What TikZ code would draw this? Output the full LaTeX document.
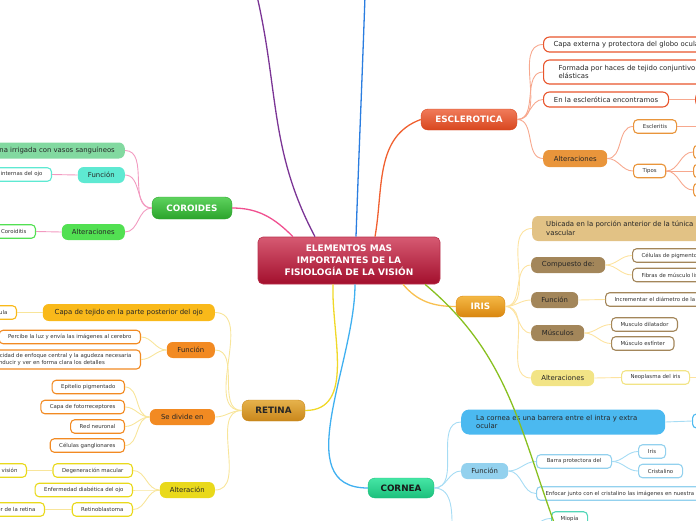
\documentclass[tikz,border=0pt]{standalone}
\usepackage{fontspec}
\setmainfont{DejaVu Sans}

\definecolor{temaTop}{HTML}{D65A72}
\definecolor{temaBot}{HTML}{A30F2D}
\definecolor{temaLine}{HTML}{B8304C}
\definecolor{escTop}{HTML}{F07B5A}
\definecolor{escBot}{HTML}{D8461E}
\definecolor{escRed}{HTML}{E8552C}
\definecolor{escOrange}{HTML}{E9953B}
\definecolor{escLink}{HTML}{F7A88E}
\definecolor{corTop}{HTML}{5ED25E}
\definecolor{corBot}{HTML}{2BA42B}
\definecolor{corLight}{HTML}{82D9A0}
\definecolor{corTurq}{HTML}{5EE9D2}
\definecolor{corGreen}{HTML}{52E052}
\definecolor{corLink}{HTML}{F29AC0}
\definecolor{retTop}{HTML}{E6B24C}
\definecolor{retBot}{HTML}{C9871B}
\definecolor{retAmber}{HTML}{F9B91A}
\definecolor{retOrange}{HTML}{F28A22}
\definecolor{retYellow}{HTML}{E9D91B}
\definecolor{retLink}{HTML}{F8E59A}
\definecolor{irisTop}{HTML}{F4B845}
\definecolor{irisBot}{HTML}{D9860F}
\definecolor{irisTan}{HTML}{E2C285}
\definecolor{irisBrown}{HTML}{A3865A}
\definecolor{irisYellow}{HTML}{F2E486}
\definecolor{irisLink}{HTML}{FDE3A0}
\definecolor{cornTop}{HTML}{45E6A5}
\definecolor{cornBot}{HTML}{1CBF7C}
\definecolor{cornBlue}{HTML}{4BB9F0}
\definecolor{cornLight}{HTML}{93D1EE}
\definecolor{cornTeal}{HTML}{52D6B8}
\definecolor{cornLink}{HTML}{A6DCF4}
\definecolor{lilaLine}{HTML}{7B3595}
\definecolor{azulLine}{HTML}{2A7DE0}
\definecolor{escLine}{HTML}{F06030}
\definecolor{corLine}{HTML}{F05090}
\definecolor{retLine}{HTML}{F0D828}
\definecolor{cornLine}{HTML}{40B0F0}
\definecolor{irisLine}{HTML}{F8C050}
\definecolor{verdeLine}{HTML}{88C020}

\begin{document}
\begin{tikzpicture}[x=1pt, y=1pt,
  tema/.style={rounded corners=5pt, top color=temaTop, bottom color=temaBot, draw=temaLine, line width=0.6pt, minimum width=182pt, minimum height=47pt, align=center, text=white, font=\fontsize{9}{12}\selectfont\bfseries},
  rama/.style 2 args={rounded corners=7pt, top color=#1, bottom color=#2, draw=#2, minimum height=21pt, font=\fontsize{8.8}{10}\selectfont\bfseries, text=white},
  subtema/.style={rounded corners=6pt, fill=#1, minimum height=16pt, inner xsep=8pt, font=\fontsize{6.9}{8.7}\selectfont, text=black!85},
  caja/.style={rounded corners=6pt, draw=#1, fill=white, line width=1.1pt, minimum height=15pt, inner xsep=10pt, font=\fontsize{6.9}{8.7}\selectfont, text=black!85},
  hoja/.style={rounded corners=4pt, draw=#1, fill=white, line width=1.1pt, minimum height=13.5pt, inner xsep=9pt, font=\fontsize{5.4}{6.9}\selectfont, text=black!80},
  enlace/.style={line width=0.9pt, draw=#1},
  rama0/.style={line width=1.3pt, draw=#1}]
  \useasboundingbox (0,0) rectangle (696,-520);
  \clip (0,0) rectangle (696,-520);

  % centro
  \node[tema] (topic) at (349,-260.5) {ELEMENTOS MAS\\IMPORTANTES DE LA\\FISIOLOGÍA DE LA VISIÓN};

  % esclerotica
  \node[rama={escTop}{escBot}, minimum width=96pt] (esc) at (469,-119.5) {ESCLEROTICA};
  \node[caja=escRed, anchor=west] (escA) at (543,-44.5) {Capa externa y protectora del globo ocular};
  \node[caja=escRed, anchor=west, minimum height=24pt, align=left, inner xsep=15pt] (escB) at (543,-72) {Formada por haces de tejido conjuntivo y fibras\\elásticas};
  \node[caja=escRed, anchor=west, minimum width=125pt] (escC) at (543,-99.5) {En la esclerótica encontramos};
  \node[subtema=escRed, anchor=west, minimum width=40pt] (escCa) at (695,-99.5) {};
  \node[subtema=escOrange, anchor=west, minimum width=64pt, minimum height=17pt] (escD) at (543,-158.5) {Alteraciones};
  \node[hoja=escOrange, anchor=west, minimum width=43pt] (escDa) at (633,-126.5) {Escleritis};
  \node[hoja=escOrange, anchor=west, minimum width=32pt] (escDb) at (633,-171) {Tipos};
  \node[hoja=escOrange, anchor=west, minimum width=30pt] (escDb1) at (693,-152) {};
  \node[hoja=escOrange, anchor=west, minimum width=30pt] (escDb2) at (693,-171) {};
  \node[hoja=escOrange, anchor=west, minimum width=30pt] (escDb3) at (693,-190) {};
  \coordinate (escDaOut) at (710,-126.5);

  % coroides
  \node[rama={corTop}{corBot}, minimum width=80pt, minimum height=22pt] (cor) at (192,-208) {COROIDES};
  \node[subtema=corLight, anchor=east, inner xsep=10pt] (corA) at (125,-150.5) {Membrana irrigada con vasos sanguíneos};
  \node[subtema=corTurq, anchor=east, minimum width=47pt] (corB) at (125,-175) {Función};
  \node[hoja=corTurq, anchor=east] (corBa) at (52,-174.5) {Nutrir las estructuras internas del ojo};
  \node[subtema=corGreen, anchor=east, minimum width=63pt] (corC) at (125,-232) {Alteraciones};
  \node[hoja=corGreen, anchor=east] (corCa) at (36,-231.5) {Coroiditis};

  % retina
  \node[rama={retTop}{retBot}, minimum width=63pt, text=black!85] (ret) at (273.5,-410.5) {RETINA};
  \node[subtema=retAmber, anchor=east, minimum width=172pt, minimum height=17pt] (retA) at (215,-312.5) {Capa de tejido en la parte posterior del ojo};
  \node[hoja=retAmber, anchor=east] (retAa) at (17,-312.5) {Mácula};
  \node[subtema=retOrange, anchor=east, minimum width=48pt] (retB) at (215,-350) {Función};
  \node[hoja=retOrange, anchor=east] (retBa) at (141,-337) {Percibe la luz y envía las imágenes al cerebro};
  \node[hoja=retOrange, anchor=east, align=left, minimum height=19pt] (retBb) at (141,-359.5) {La capacidad de enfoque central y la agudeza necesaria\\para conducir y ver en forma clara los detalles};
  \node[subtema=retOrange, anchor=east, minimum width=65pt] (retC) at (215,-417) {Se divide en};
  \node[hoja=retOrange, anchor=east] (retC1) at (125,-387) {Epitelio pigmentado};
  \node[hoja=retOrange, anchor=east] (retC2) at (125,-407) {Capa de fotorreceptores};
  \node[hoja=retOrange, anchor=east] (retC3) at (125,-426.5) {Red neuronal};
  \node[hoja=retOrange, anchor=east] (retC4) at (125,-445.5) {Células ganglionares};
  \node[subtema=retYellow, anchor=east, minimum width=55pt] (retD) at (215,-490) {Alteración};
  \node[hoja=retYellow, anchor=east] (retDa) at (133,-470.5) {Degeneración macular};
  \node[hoja=retYellow, anchor=east] (retDa1) at (27,-470.5) {Pérdida de la visión};
  \node[hoja=retYellow, anchor=east] (retDb) at (133,-490) {Enfermedad diabética del ojo};
  \node[hoja=retYellow, anchor=east] (retDc) at (133,-509.5) {Retinoblastoma};
  \node[hoja=retYellow, anchor=east] (retDc1) at (45,-509.5) {Cáncer de la retina};

  % iris
  \node[rama={irisTop}{irisBot}, minimum width=49pt] (iris) at (480.5,-306.5) {IRIS};
  \node[subtema=irisTan, anchor=west, minimum height=25pt, align=left, inner xsep=14pt] (irisA) at (532,-228.5) {Ubicada en la porción anterior de la túnica\\vascular};
  \node[subtema=irisBrown, anchor=west, minimum width=74pt] (irisB) at (531,-265) {Compuesto de:};
  \node[hoja=irisBrown, anchor=west] (irisBa) at (632,-255.5) {Células de pigmento};
  \node[hoja=irisBrown, anchor=west] (irisBb) at (632,-275) {Fibras de músculo liso};
  \node[subtema=irisBrown, anchor=west, minimum width=47pt] (irisC) at (531,-300) {Función};
  \node[hoja=irisBrown, anchor=west] (irisCa) at (605,-299.5) {Incrementar el diámetro de la pupila};
  \node[subtema=irisBrown, anchor=west, minimum width=53pt] (irisD) at (531,-333) {Músculos};
  \node[hoja=irisBrown, anchor=west] (irisDa) at (611,-324.5) {Musculo dilatador};
  \node[hoja=irisBrown, anchor=west] (irisDb) at (611,-343.5) {Músculo esfínter};
  \node[subtema=irisYellow, anchor=west, minimum width=63pt] (irisE) at (531,-378) {Alteraciones};
  \node[hoja=irisYellow, anchor=west] (irisEa) at (621,-377.5) {Neoplasma del iris};
  \coordinate (irisEaOut) at (710,-377.5);

  % cornea
  \node[rama={cornTop}{cornBot}, minimum width=66pt, minimum height=20pt, text=black!90] (corn) at (401,-488) {CORNEA};
  \node[subtema=cornBlue, anchor=west, text width=174pt, minimum height=25pt, rounded corners=8pt, align=left, inner xsep=15pt] (cornA) at (461,-422) {La cornea es una barrera entre el intra y extra\\ocular};
  \node[hoja=cornBlue, anchor=west, minimum width=30pt, minimum height=14pt] (cornAa) at (692,-421) {};
  \node[subtema=cornLight, anchor=west, minimum width=47pt] (cornB) at (461,-471) {Función};
  \node[hoja=cornLight, anchor=west, minimum width=75pt] (cornBa) at (536,-461.5) {Barra protectora del};
  \node[hoja=cornLight, anchor=west, minimum width=27pt] (cornBa1) at (638,-451.5) {Iris};
  \node[hoja=cornLight, anchor=west, minimum width=44pt] (cornBa2) at (638,-471) {Cristalino};
  \node[hoja=cornLight, anchor=west] (cornBb) at (536,-493.5) {Enfocar junto con el cristalino las imágenes en nuestra retina};
  \node[hoja=cornTeal, anchor=west, minimum width=36pt] (mio) at (551,-518.5) {Miopía};
  \coordinate (cornC) at (452,-535);
  \coordinate (mioIn) at (532,-532);

  % ramas del centro
  \coordinate (lilaEnd) at (257,4);
  \coordinate (azulEnd) at (365,4);
  \coordinate (verdeEnd) at (556,-528);
  \draw[rama0=lilaLine] ([xshift=-34pt]topic.north) to[out=118, in=-77] (lilaEnd);
  \draw[rama0=azulLine] ([xshift=7pt]topic.north) to[out=88, in=-92] (azulEnd);
  \draw[rama0=escLine] ([xshift=26pt]topic.north) to[out=80, in=200] (esc.west);
  \draw[rama0=corLine] (cor.east) to[out=0, in=135] ([xshift=-56pt]topic.north);
  \draw[rama0=retLine] ([xshift=-16pt]topic.south) to[out=-92, in=0] (ret.east);
  \draw[rama0=cornLine] ([xshift=6pt]topic.south) to[out=-90, in=180] (corn.west);
  \draw[rama0=irisLine] ([xshift=54pt]topic.south) to[out=-50, in=180] (iris.west);

  % enlaces esclerotica
  \draw[enlace=escLink] (esc.east) to[out=0, in=180] (escA.west);
  \draw[enlace=escLink] (esc.east) to[out=0, in=180] (escB.west);
  \draw[enlace=escLink] (esc.east) to[out=0, in=180] (escC.west);
  \draw[enlace=escLink] (esc.east) to[out=0, in=180] (escD.west);
  \draw[enlace=escLink] (escC.east) -- (escCa.west);
  \draw[enlace=escLink] (escD.east) to[out=0, in=180] (escDa.west);
  \draw[enlace=escLink] (escD.east) to[out=0, in=180] (escDb.west);
  \draw[enlace=escLink] (escDa.east) -- (escDaOut);
  \draw[enlace=escLink] (escDb.east) to[out=0, in=180] (escDb1.west);
  \draw[enlace=escLink] (escDb.east) -- (escDb2.west);
  \draw[enlace=escLink] (escDb.east) to[out=0, in=180] (escDb3.west);

  % enlaces coroides
  \draw[enlace=corLink] (cor.west) to[out=180, in=0] (corA.east);
  \draw[enlace=corLink] (cor.west) to[out=180, in=0] (corB.east);
  \draw[enlace=corLink] (cor.west) to[out=180, in=0] (corC.east);
  \draw[enlace=corLink] (corB.west) -- (corBa.east);
  \draw[enlace=corLink] (corC.west) -- (corCa.east);

  % enlaces retina
  \draw[enlace=retLink] (ret.west) to[out=180, in=0] (retA.east);
  \draw[enlace=retLink] (ret.west) to[out=180, in=0] (retB.east);
  \draw[enlace=retLink] (ret.west) to[out=180, in=0] (retC.east);
  \draw[enlace=retLink] (ret.west) to[out=180, in=0] (retD.east);
  \draw[enlace=retLink] (retA.west) -- (retAa.east);
  \draw[enlace=retLink] (retB.west) to[out=180, in=0] (retBa.east);
  \draw[enlace=retLink] (retB.west) to[out=180, in=0] (retBb.east);
  \draw[enlace=retLink] (retC.west) to[out=180, in=0] (retC1.east);
  \draw[enlace=retLink] (retC.west) to[out=180, in=0] (retC2.east);
  \draw[enlace=retLink] (retC.west) to[out=180, in=0] (retC3.east);
  \draw[enlace=retLink] (retC.west) to[out=180, in=0] (retC4.east);
  \draw[enlace=retLink] (retD.west) to[out=180, in=0] (retDa.east);
  \draw[enlace=retLink] (retD.west) to[out=180, in=0] (retDb.east);
  \draw[enlace=retLink] (retD.west) to[out=180, in=0] (retDc.east);
  \draw[enlace=retLink] (retDa.west) -- (retDa1.east);
  \draw[enlace=retLink] (retDc.west) -- (retDc1.east);

  % enlaces iris
  \draw[enlace=irisLink] (iris.east) to[out=0, in=180] (irisA.west);
  \draw[enlace=irisLink] (iris.east) to[out=0, in=180] (irisB.west);
  \draw[enlace=irisLink] (iris.east) to[out=0, in=180] (irisC.west);
  \draw[enlace=irisLink] (iris.east) to[out=0, in=180] (irisD.west);
  \draw[enlace=irisLink] (iris.east) to[out=0, in=180] (irisE.west);
  \draw[enlace=irisLink] (irisB.east) to[out=0, in=180] (irisBa.west);
  \draw[enlace=irisLink] (irisB.east) to[out=0, in=180] (irisBb.west);
  \draw[enlace=irisLink] (irisC.east) -- (irisCa.west);
  \draw[enlace=irisLink] (irisD.east) to[out=0, in=180] (irisDa.west);
  \draw[enlace=irisLink] (irisD.east) to[out=0, in=180] (irisDb.west);
  \draw[enlace=irisLink] (irisE.east) -- (irisEa.west);
  \draw[enlace=irisLink] (irisEa.east) -- (irisEaOut);

  % enlaces cornea
  \draw[enlace=cornLink] (corn.east) to[out=0, in=180] (cornA.west);
  \draw[enlace=cornLink] (corn.east) to[out=0, in=180] (cornB.west);
  \draw[enlace=cornLink] (corn.east) to[out=0, in=90] (cornC);
  \draw[enlace=cornLink] (cornA.east) -- (cornAa.west);
  \draw[enlace=cornLink] (cornB.east) to[out=0, in=180] (cornBa.west);
  \draw[enlace=cornLink] (cornB.east) to[out=0, in=180] (cornBb.west);
  \draw[enlace=cornLink] (cornBa.east) to[out=0, in=180] (cornBa1.west);
  \draw[enlace=cornLink] (cornBa.east) to[out=0, in=180] (cornBa2.west);
  \draw[enlace=cornLink] (mioIn) to[out=60, in=180] (mio.west);

  % rama verde por encima
  \draw[rama0=verdeLine] ([xshift=76pt]topic.south) to[out=-40, in=110] (verdeEnd);
\end{tikzpicture}
\end{document}
